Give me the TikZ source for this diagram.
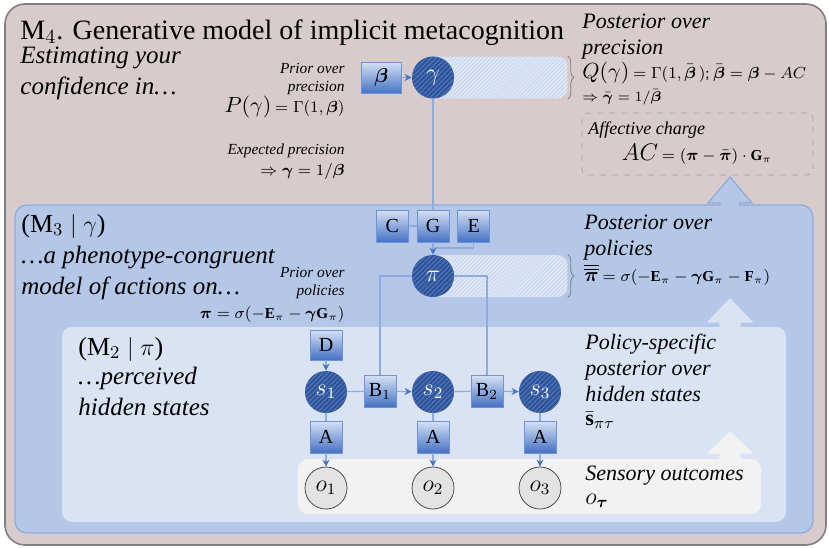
\documentclass[tikz,border=0pt]{standalone}
\usepackage{amsmath, amssymb}
\usepackage{fontspec}
\setmainfont{Liberation Serif}
\usepackage{tikz}
\usetikzlibrary{positioning}
\usetikzlibrary{arrows.meta}
\usetikzlibrary{patterns.meta}
\usetikzlibrary{decorations.pathreplacing}

\definecolor{outerfill}{HTML}{D7CBCB}
\definecolor{frame}{HTML}{7F7F7F}
\definecolor{mthreefill}{HTML}{B4C7E7}
\definecolor{mthreeedge}{HTML}{8FAADC}
\definecolor{mtwofill}{HTML}{DAE3F3}
\definecolor{obsfill}{HTML}{F2F2F2}
\definecolor{nodeblue}{HTML}{2F5597}
\definecolor{hatchblue}{HTML}{5479C6}
\definecolor{boxtop}{HTML}{D6E1F4}
\definecolor{boxbot}{HTML}{4472C4}
\definecolor{boxedge}{HTML}{6F93D6}
\definecolor{linkblue}{HTML}{8FAADC}
\definecolor{tipblue}{HTML}{4472C4}
\definecolor{bandfill}{HTML}{CFDBF0}

\tikzset{
    mbox/.style={ % parameter boxes (beta, C, G, E, D, B, A)
        draw=boxedge,
        top color=boxtop, bottom color=boxbot,
        minimum width=16pt, minimum height=16pt, inner sep=0pt,
        font=\fontsize{10}{12}\selectfont
    },
    hidden/.style={ % hatched blue circles
        circle, fill=nodeblue, minimum size=21pt, inner sep=0pt,
        text=white, font=\fontsize{12}{14}\selectfont,
        postaction={pattern={Lines[angle=45,distance=1.7pt,line width=0.45pt]}, pattern color=hatchblue}
    },
    outcome/.style={ % observed outcomes
        circle, draw=gray!60!black, fill=gray!22,
        minimum size=21pt, inner sep=0pt,
        font=\fontsize{12}{14}\selectfont
    },
    band/.style={ % hatched strip behind gamma and pi
        fill=bandfill, rounded corners=5pt, anchor=west,
        minimum width=71pt, minimum height=21pt, inner sep=0pt,
        postaction={pattern={Lines[angle=45,distance=1.4pt,line width=0.3pt]}, pattern color=white!60!bandfill}
    },
    link/.style={draw=linkblue, line width=0.6pt},
    flow/.style={link, -{Stealth[length=3.5pt,width=3.5pt,color=tipblue]}},
    bigtext/.style={font=\fontsize{12.5}{15.5}\selectfont\itshape, align=left, anchor=north west, inner sep=0pt},
    sidetext/.style={font=\fontsize{11}{12.8}\selectfont\itshape, align=left, anchor=north west, inner sep=0pt},
    note/.style={font=\fontsize{7.7}{9}\selectfont\itshape, align=right, anchor=north east, inner sep=0pt},
    eqn/.style={font=\fontsize{7.6}{9}\selectfont, inner sep=0pt}
}

\begin{document}
\begin{tikzpicture}[x=0.5pt,y=-0.5pt]
    \useasboundingbox (0,0) rectangle (829,547);

    % nested model frames
    \draw[draw=frame, fill=outerfill, line width=0.8pt, rounded corners=10pt] (5,4) rectangle (826,545);
    \draw[draw=mthreeedge, fill=mthreefill, line width=0.6pt, rounded corners=6pt] (15,205) rectangle (813,533);
    \fill[mtwofill, rounded corners=5pt] (62,327) rectangle (786,522);
    \fill[obsfill, rounded corners=5pt] (298,459) rectangle (761,514);

    % upward arrows between levels
    \foreach \tip/\base/\foot/\col/\edge in {177/203/206/mthreefill/mthreeedge, 299/322/328/mtwofill/mtwofill, 432/453/460/obsfill/obsfill}
        \filldraw[fill=\col, draw=\edge, line width=0.6pt] (720,\foot) -- (720,\base) -- (708,\base) -- (730,\tip) -- (752,\base) -- (740,\base) -- (740,\foot);

    \node[draw=gray!70, dashed, rounded corners=3pt, minimum width=115.5pt, minimum height=31pt] (ac) at (697.5,144) {};

    % hatched strips and braces
    \node[band] (gband) at (425,77.5) {};
    \node[band] (pband) at (425,276) {};
    \draw[decorate, decoration={brace, amplitude=3pt}, draw=gray] (gband.north east) -- (gband.south east);
    \draw[decorate, decoration={brace, amplitude=3pt}, draw=gray] (pband.north east) -- (pband.south east);

    % nodes
    \node[hidden] (gamma) at (433,77.5) {$\gamma$};
    \node[mbox, minimum width=20pt, minimum height=15.5pt, left=5pt of gamma] (beta) {$\boldsymbol{\beta}$};
    \node[mbox] (G) at (433,226) {G};
    \node[mbox, left=4pt of G] (C) {C};
    \node[mbox, right=4pt of G] (E) {E};
    \node[hidden] (pi) at (433,276) {$\pi$};
    \node[mbox, minimum height=15pt] (D) at (326,345) {D};
    \node[hidden] (s1) at (326,392) {$s_1$};
    \node[mbox] (B1) at (380,391) {B$_1$};
    \node[hidden] (s2) at (433,392) {$s_2$};
    \node[mbox] (B2) at (487,391) {B$_2$};
    \node[hidden] (s3) at (540,392) {$s_3$};
    \foreach \i/\x in {1/326, 2/433, 3/540} {
        \node[mbox] (A\i) at (\x,437) {A};
        \node[outcome] (o\i) at (\x,488) {$o_\i$};
    }
    \coordinate (join) at (433,248);

    % connectors
    \draw[flow] (beta) -- (gamma);
    \draw[link] (gamma) -- (G);
    \draw[link] (C) -- (G);
    \draw[link] (E.south) |- (join);
    \draw[flow] (G) -- (pi);
    \draw[link] (pi.west) -| (B1.north);
    \draw[link] (pi.east) -| (B2.north);
    \draw[flow] (D) -- (s1);
    \draw[link] (s1) -- (B1);
    \draw[flow] (B1) -- (s2);
    \draw[link] (s2) -- (B2);
    \draw[flow] (B2) -- (s3);
    \foreach \i in {1,2,3} {
        \draw[link] (s\i) -- (A\i);
        \draw[flow] (A\i) -- (o\i);
    }

    % level M4
    \node[anchor=base west, inner sep=0pt, font=\fontsize{14}{16}\selectfont] (title) at (20,39) {M$_4$. Generative model of implicit metacognition};
    \node[bigtext] (estim) at (20,47) {Estimating your\\confidence in…};
    \node[note] (priorg) at (345,63) {Prior over\\precision};
    \node[eqn, anchor=base east] (pgam) at (345,112) {{\fontsize{10.5}{12}\selectfont$P(\gamma)$} $=\Gamma(1,\boldsymbol{\beta})$};
    \node[note] (expg) at (345,143) {Expected precision};
    \node[eqn, anchor=base east, font=\fontsize{8.3}{10}\selectfont] (gexp) at (345,175) {$\Rightarrow\boldsymbol{\gamma}=1/\boldsymbol{\beta}$};
    \node[sidetext] (postg) at (582,14) {Posterior over\\precision};
    \node[eqn, anchor=base west] (qgam) at (582,78) {{\fontsize{10.5}{12}\selectfont$Q(\gamma)$} $=\Gamma(1,\bar{\boldsymbol{\beta}}\,)$; $\bar{\boldsymbol{\beta}}=\boldsymbol{\beta}-AC$};
    \node[eqn, anchor=base west, font=\fontsize{7}{8}\selectfont] (gbar) at (582,101) {$\Rightarrow\bar{\boldsymbol{\gamma}}=1/\bar{\boldsymbol{\beta}}$};
    \node[anchor=base west, inner sep=0pt, font=\fontsize{9}{11}\selectfont\itshape] (aclbl) at (588,134) {Affective charge};
    \node[eqn, anchor=base] (aceq) at (697,160) {{\fontsize{12.5}{14}\selectfont$AC$} $=(\boldsymbol{\pi}-\bar{\boldsymbol{\pi}})\cdot\mathbf{G}_\pi$};

    % level M3
    \node[anchor=base west, inner sep=0pt, font=\fontsize{13}{15}\selectfont] (mthree) at (21,232) {(M$_3\mid\gamma$)};
    \node[bigtext] (pheno) at (21,246) {…a phenotype-congruent\\model of actions on…};
    \node[note] (priorp) at (345,267) {Prior over\\policies};
    \node[eqn, anchor=base east] (ppi) at (345,318) {$\boldsymbol{\pi}=\sigma(-\mathbf{E}_\pi-\boldsymbol{\gamma}\mathbf{G}_\pi)$};
    \node[sidetext] (postp) at (584,215) {Posterior over\\policies};
    \node[eqn, anchor=base west] (pibar) at (584,281) {{\fontsize{10}{12}\selectfont$\overline{\overline{\boldsymbol{\pi}}}$} $=\sigma(-\mathbf{E}_\pi-\boldsymbol{\gamma}\mathbf{G}_\pi-\mathbf{F}_\pi)$};

    % level M2
    \node[anchor=base west, inner sep=0pt, font=\fontsize{13}{15}\selectfont] (mtwo) at (78,355) {(M$_2\mid\pi$)};
    \node[bigtext] (perc) at (78,367) {…perceived\\hidden states};
    \node[sidetext] (posts) at (585,334) {Policy-specific\\posterior over\\hidden states};
    \node[anchor=base west, inner sep=0pt, font=\fontsize{11}{13}\selectfont] (sbar) at (585,425) {$\bar{\mathbf{s}}_{\pi\tau}$};
    \node[sidetext] (sens) at (585,466) {Sensory outcomes};
    \node[anchor=base west, inner sep=0pt, font=\fontsize{12}{14}\selectfont] (otau) at (585,504) {$o_{\boldsymbol{\tau}}$};
\end{tikzpicture}
\end{document}
